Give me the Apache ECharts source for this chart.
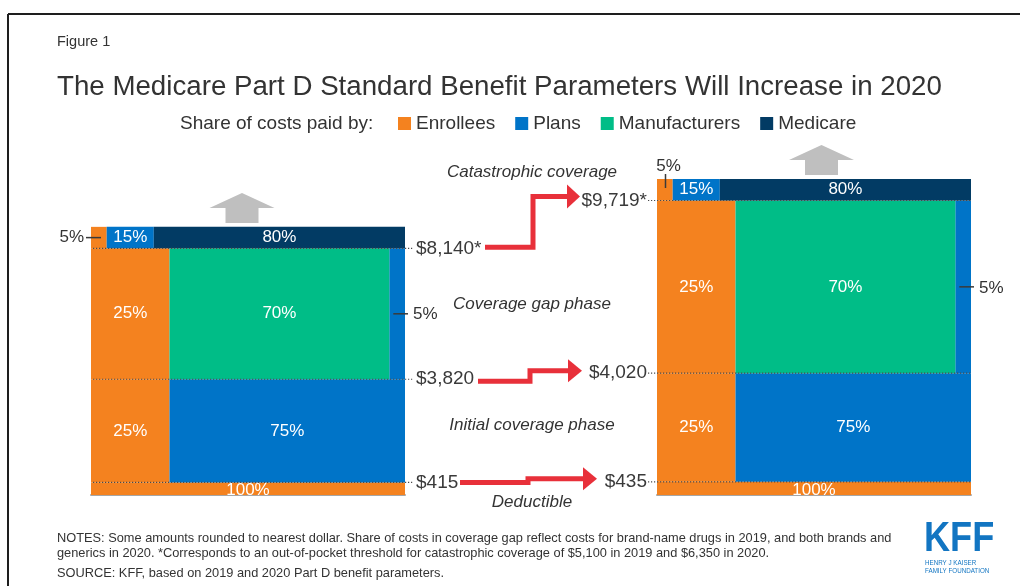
<!DOCTYPE html>
<html>
<head>
<meta charset="utf-8">
<script src="https://cdn.jsdelivr.net/npm/echarts@6/dist/echarts.min.js"></script>
<style>
  html, body { margin: 0; padding: 0; background: #fff; }
  #chart { width: 1020px; height: 586px; }
</style>
</head>
<body>
<div id="chart"></div>
<script>
// ---- data ----
const years = ['2019', '2020'];
const payers = ['Enrollees', 'Plans', 'Manufacturers', 'Medicare'];
const deductibleAmount = [415, 435];
const initialCoverageLimit = [3820, 4020];
const catastrophicThreshold = [8140, 9719];
// share of costs (%) paid in each phase, listed left to right
const deductibleSplit = [['Enrollees', 100]];
const initialSplit = [['Enrollees', 25], ['Plans', 75]];
const gapSplit = [['Enrollees', 25], ['Manufacturers', 70], ['Plans', 5]];
const catastrophicSplit = [['Enrollees', 5], ['Plans', 15], ['Medicare', 80]];
const phaseNames = ['Deductible', 'Initial coverage phase', 'Coverage gap phase', 'Catastrophic coverage'];

// ---- styling ----
const FONT = '"Liberation Sans", Arial, Helvetica, sans-serif';
const TEXT = '#333333';
const payerColors = { Enrollees: '#F4821F', Plans: '#0074C8', Manufacturers: '#00BD87', Medicare: '#023B64' };
const Y_MAX = 12000;
const CAT_BAND_PX = 21.5;   // open-ended catastrophic band, drawn at a fixed height
const RED = '#E8303A';

const chart = echarts.init(document.getElementById('chart'), null, { renderer: 'canvas' });

function phasesFor(i) {
  return [
    { split: deductibleSplit, lo: 0, hi: deductibleAmount[i] },
    { split: initialSplit, lo: deductibleAmount[i], hi: initialCoverageLimit[i] },
    { split: gapSplit, lo: initialCoverageLimit[i], hi: catastrophicThreshold[i] },
    { split: catastrophicSplit, lo: catastrophicThreshold[i], hi: catastrophicThreshold[i] }
  ];
}

// rows: [x0, x1, yLo, yHi, share, phaseIndex, yearIndex]
function blocksFor(payer, yi) {
  const rows = [];
  phasesFor(yi).forEach((ph, pi) => {
    let acc = 0;
    ph.split.forEach(([who, share]) => {
      if (who === payer) rows.push([acc, acc + share, ph.lo, ph.hi, share, pi, yi]);
      acc += share;
    });
  });
  return rows;
}

function txt(text, x, y, opts) {
  return Object.assign({
    type: 'text',
    style: Object.assign({
      text: text, x: x, y: y, fill: TEXT, fontSize: 17, fontFamily: FONT,
      align: 'center', verticalAlign: 'middle', textAlign: 'center', textVerticalAlign: 'middle'
    }, opts || {})
  });
}

function leader(x1, y1, x2, y2) {
  return { type: 'line', shape: { x1, y1, x2, y2 }, style: { stroke: '#3a3a3a', lineWidth: 1.5 } };
}

function renderBlock(params, api) {
  const x0 = api.value(0), x1 = api.value(1), lo = api.value(2), hi = api.value(3);
  const share = api.value(4), phase = api.value(5), year = api.value(6);
  const pLo = api.coord([x0, lo]);
  const pHi = api.coord([x1, hi]);
  const left = pLo[0], right = pHi[0], bottom = pLo[1];
  const top = phase === 3 ? bottom - CAT_BAND_PX : pHi[1];
  const children = [{
    type: 'rect',
    shape: { x: left, y: top, width: right - left, height: bottom - top },
    style: { fill: api.visual('color') }
  }];
  const cx = (left + right) / 2, cy = (top + bottom) / 2;
  const label = share + '%';
  if (share >= 10) {
    const t = txt(label, cx, phase === 0 ? cy + 1.5 : cy, { fill: '#fff' });
    if (phase === 0) {
      t.clipPath = { type: 'rect', shape: { x: left, y: top - 12, width: right - left, height: bottom - top + 12 } };
    }
    children.push(t);
  } else if (phase === 3 && year === 0) {
    children.push(leader(left - 5, cy, left + 10, cy));
    children.push(txt(label, left - 7, cy, { align: 'right', textAlign: 'right' }));
  } else if (phase === 3) {
    const lx = left + 8.5;
    children.push(leader(lx, top - 5, lx, top + 9));
    children.push(txt(label, lx + 3, top - 13));
  } else {
    children.push(leader(left + 4, cy, right + 3, cy));
    children.push(txt(label, right + 8, cy + 1, { align: 'left', textAlign: 'left' }));
  }
  return { type: 'group', children };
}

function renderThreshold(params, api) {
  const v = api.value(0), isCat = api.value(1), year = api.value(2);
  const pL = api.coord([0, v]);
  const pR = api.coord([100, v]);
  const y = pL[1];
  const label = '$' + v.toLocaleString('en-US') + (isCat ? '*' : '');
  const dots = { stroke: '#4a4a4a', lineWidth: 1.2, lineDash: [1.2, 1.8] };
  if (year === 0) {
    return { type: 'group', children: [
      { type: 'line', shape: { x1: pL[0] + 2, y1: y, x2: pR[0] + 9, y2: y }, style: dots },
      txt(label, pR[0] + 11, y, { align: 'left', textAlign: 'left', fontSize: 19, fill: '#3a3a3a' })
    ] };
  }
  return { type: 'group', children: [
    { type: 'line', shape: { x1: pL[0] - 9, y1: y, x2: pR[0], y2: y }, style: dots },
    txt(label, pL[0] - 10, y, { align: 'right', textAlign: 'right', fontSize: 19, fill: '#3a3a3a' })
  ] };
}

const series = [];
years.forEach((yr, yi) => {
  payers.forEach(p => {
    series.push({
      type: 'custom', name: p, xAxisIndex: yi, yAxisIndex: yi,
      itemStyle: { color: payerColors[p] },
      renderItem: renderBlock,
      encode: { x: [0, 1], y: [2, 3] },
      data: blocksFor(p, yi),
      silent: true, z: 2
    });
  });
  series.push({
    type: 'custom', name: 'thresholds ' + yr, xAxisIndex: yi, yAxisIndex: yi,
    renderItem: renderThreshold,
    encode: { x: -1, y: 0 },
    data: [[deductibleAmount[yi], 0, yi], [initialCoverageLimit[yi], 0, yi], [catastrophicThreshold[yi], 1, yi]],
    silent: true, z: 5
  });
});

const gridBase = { top: 131.4, bottom: 91, width: 314 };
const axisX = i => ({
  type: 'value', gridIndex: i, min: 0, max: 100,
  axisLine: { show: true, lineStyle: { color: '#a6a6a6', width: 2 } },
  axisTick: { show: false }, axisLabel: { show: false }, splitLine: { show: false }
});
const axisY = i => ({
  type: 'value', gridIndex: i, min: 0, max: Y_MAX,
  axisLine: { show: false }, axisTick: { show: false }, axisLabel: { show: false }, splitLine: { show: false }
});

chart.setOption({
  animation: false,
  backgroundColor: '#fff',
  textStyle: { fontFamily: FONT },
  grid: [Object.assign({ left: 91 }, gridBase), Object.assign({ left: 657 }, gridBase)],
  xAxis: [axisX(0), axisX(1)],
  yAxis: [axisY(0), axisY(1)],
  legend: {
    data: payers, left: 393, top: 109, icon: 'rect', itemWidth: 13, itemHeight: 13, itemGap: 20,
    selectedMode: false, textStyle: { fontSize: 19, color: TEXT, fontFamily: FONT }
  },
  series: series
});

// ---- annotations ----
const yPix = (yi, v) => chart.convertToPixel({ yAxisIndex: yi }, v);

function redArrow(x0, y0, xStep, y1, xHead, xTip, half) {
  return [
    { type: 'polyline', shape: { points: [[x0, y0], [xStep, y0], [xStep, y1], [xHead + 1, y1]] },
      style: { stroke: RED, lineWidth: 5, fill: null, lineJoin: 'miter' }, silent: true },
    { type: 'polygon', shape: { points: [[xHead, y1 - half], [xTip, y1], [xHead, y1 + half]] },
      style: { fill: RED }, silent: true }
  ];
}

function upArrow(cx, tipY) {
  return { type: 'polygon', silent: true, style: { fill: '#BFBFBF' }, shape: { points: [
    [cx, tipY], [cx + 32.5, tipY + 15], [cx + 16.5, tipY + 15], [cx + 16.5, tipY + 30],
    [cx - 16.5, tipY + 30], [cx - 16.5, tipY + 15], [cx - 32.5, tipY + 15]
  ] } };
}

function plainText(text, x, y, opts) {
  return { type: 'text', silent: true, x: x, y: y, style: Object.assign({
    text: text, fill: TEXT, fontFamily: FONT, fontSize: 17,
    align: 'left', verticalAlign: 'middle', textAlign: 'left', textVerticalAlign: 'middle'
  }, opts || {}) };
}

const phaseLabelY = [502, 425, 304, 172];
const graphics = [
  { type: 'line', silent: true, shape: { x1: 8, y1: 14, x2: 1020, y2: 14 }, style: { stroke: '#1e1e1e', lineWidth: 2 } },
  { type: 'line', silent: true, shape: { x1: 8, y1: 14, x2: 8, y2: 586 }, style: { stroke: '#1e1e1e', lineWidth: 2 } },
  plainText('Figure 1', 57, 42, { fontSize: 14.5 }),
  plainText('The Medicare Part D Standard Benefit Parameters Will Increase in 2020', 57, 87, { fontSize: 27.7 }),
  plainText('Share of costs paid by:', 180, 123.5, { fontSize: 19 }),
  upArrow(242, 193),
  upArrow(821.5, 145)
];
phaseNames.forEach((n, i) => {
  graphics.push(plainText(n, 532, phaseLabelY[i], { fontStyle: 'italic', align: 'center', textAlign: 'center' }));
});
graphics.push(...redArrow(485, yPix(0, catastrophicThreshold[0]) - 1, 533, yPix(1, catastrophicThreshold[1]) - 4, 567, 580, 12));
graphics.push(...redArrow(478, yPix(0, initialCoverageLimit[0]) + 2, 530, yPix(1, initialCoverageLimit[1]) - 2.5, 568, 582, 11.5));
graphics.push(...redArrow(460, yPix(0, deductibleAmount[0]), 528, yPix(1, deductibleAmount[1]) - 3, 583, 597, 11.5));

const notes = [
  'NOTES: Some amounts rounded to nearest dollar. Share of costs in coverage gap reflect costs for brand-name drugs in 2019, and both brands and',
  'generics in 2020. *Corresponds to an out-of-pocket threshold for catastrophic coverage of $5,100 in 2019 and $6,350 in 2020.',
  'SOURCE: KFF, based on 2019 and 2020 Part D benefit parameters.'
];
[538, 553, 573].forEach((y, i) => graphics.push(plainText(notes[i], 57, y, { fontSize: 12.8 })));

// KFF wordmark
graphics.push({ type: 'text', silent: true, x: 924, y: 539, scaleX: 0.86, style: {
  text: 'KFF', fill: '#1275C2', fontFamily: FONT, fontWeight: 'bold', fontSize: 42,
  align: 'left', verticalAlign: 'middle', textAlign: 'left', textVerticalAlign: 'middle' } });
graphics.push({ type: 'text', silent: true, x: 925, y: 563, scaleX: 0.78, style: {
  text: 'HENRY J KAISER', fill: '#1275C2', fontFamily: FONT, fontSize: 8,
  align: 'left', verticalAlign: 'middle', textAlign: 'left', textVerticalAlign: 'middle' } });
graphics.push({ type: 'text', silent: true, x: 925, y: 571, scaleX: 0.78, style: {
  text: 'FAMILY FOUNDATION', fill: '#1275C2', fontFamily: FONT, fontSize: 8,
  align: 'left', verticalAlign: 'middle', textAlign: 'left', textVerticalAlign: 'middle' } });

chart.setOption({ graphic: { elements: graphics } });
</script>
</body>
</html>
